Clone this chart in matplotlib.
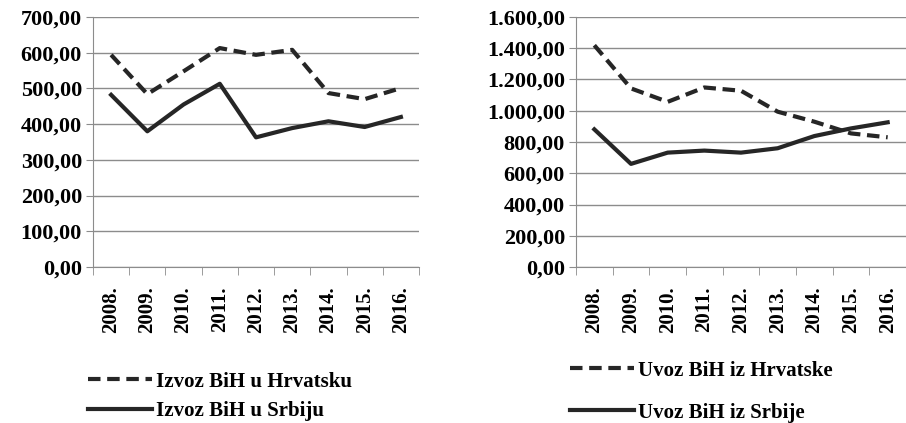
import matplotlib
matplotlib.use("Agg")
import matplotlib.pyplot as plt
from matplotlib.ticker import FuncFormatter, FixedLocator
import numpy as np

years = ["2008.", "2009.", "2010.", "2011.", "2012.", "2013.", "2014.", "2015.", "2016."]

izvoz_hrv = [594, 484, 548, 613, 594, 608, 487, 470, 501]
izvoz_srb = [482, 380, 455, 513, 363, 389, 408, 392, 420]

uvoz_hrv = [1419, 1143, 1057, 1149, 1128, 994, 930, 855, 830]
uvoz_srb = [881, 660, 732, 745, 732, 760, 838, 887, 926]

plt.rcParams['font.family'] = ['Liberation Serif', 'DejaVu Serif']
plt.rcParams['font.weight'] = 'bold'


def fmt(v, pos):
    s = f"{v:,.2f}"
    return s.replace(",", "X").replace(".", ",").replace("X", ".")


fig = plt.figure(figsize=(9.06, 4.23), dpi=100)
W, H = 906, 423


def make_ax(left, right, top, bottom):
    return fig.add_axes([left / W, 1 - bottom / H, (right - left) / W, (bottom - top) / H])


ax1 = make_ax(93, 419, 17, 267)
ax2 = make_ax(576, 906, 17, 267)

panels = [
    (ax1, izvoz_hrv, izvoz_srb, 700, 100, ["Izvoz BiH u Hrvatsku", "Izvoz BiH u Srbiju"]),
    (ax2, uvoz_hrv, uvoz_srb, 1600, 200, ["Uvoz BiH iz Hrvatske", "Uvoz BiH iz Srbije"]),
]

x = np.arange(len(years))
for ax, dashed, solid, ymax, step, labels in panels:
    ax.plot(x, dashed, color="#262626", lw=3, linestyle=(0, (3, 1.6)), label=labels[0])
    ax.plot(x, solid, color="#262626", lw=3, linestyle="-", label=labels[1])
    ax.set_xlim(-0.5, len(years) - 0.5)
    ax.set_ylim(0, ymax)
    ax.set_yticks(np.arange(0, ymax + 1, step))
    ax.yaxis.set_major_formatter(FuncFormatter(fmt))
    ax.grid(axis="y", color="#8c8c8c", lw=1)
    ax.set_axisbelow(True)
    for s in ["top", "right"]:
        ax.spines[s].set_visible(False)
    ax.spines["left"].set_color("#8c8c8c")
    ax.spines["bottom"].set_color("#8c8c8c")
    ax.set_xticks(x)
    ax.set_xticklabels(years, rotation=90, fontsize=15, fontweight="bold")
    ax.tick_params(axis="x", length=0, pad=14)
    ax.xaxis.set_minor_locator(FixedLocator(np.arange(-0.5, len(years), 1.0)))
    ax.tick_params(axis="x", which="minor", length=6, color="#8c8c8c", direction="out")
    ax.tick_params(axis="y", length=5, color="#8c8c8c", labelsize=16, pad=3)
    for lab in ax.get_yticklabels():
        lab.set_fontweight("bold")

leg1 = fig.legend(handles=ax1.get_lines(), loc="upper left", bbox_to_anchor=(69 / W, 1 - 353 / H),
                  frameon=False, handlelength=3.1, handletextpad=0.2, labelspacing=0.45,
                  prop={"weight": "bold", "size": 15})
leg2 = fig.legend(handles=ax2.get_lines(), loc="upper left", bbox_to_anchor=(551 / W, 1 - 342 / H),
                  frameon=False, handlelength=3.1, handletextpad=0.2, labelspacing=1.05,
                  prop={"weight": "bold", "size": 15})

fig.savefig("out.png", dpi=100)
